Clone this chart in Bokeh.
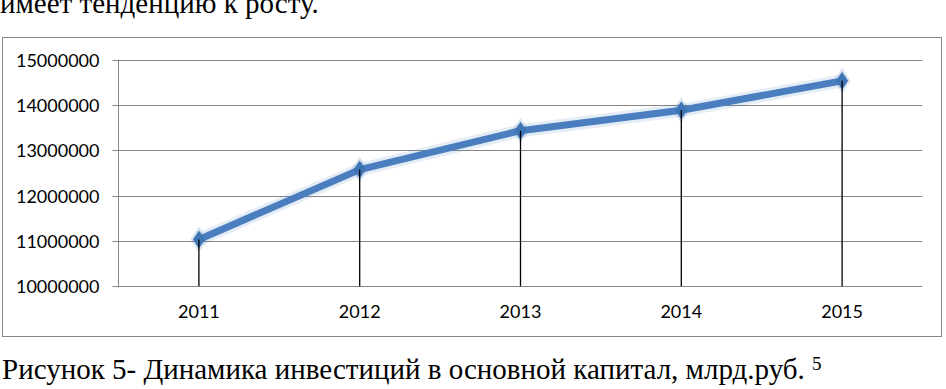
from bokeh.plotting import figure
from bokeh.layouts import column
from bokeh.models import (ColumnDataSource, Range1d, FactorRange, FixedTicker,
                          BasicTickFormatter, Div)
from bokeh.embed import file_html
from bokeh.resources import INLINE

# ---- data ----
years = ["2011", "2012", "2013", "2014", "2015"]
investment = [11035700, 12586100, 13450200, 13902600, 14555900]
y_ticks = [10000000, 11000000, 12000000, 13000000, 14000000, 15000000]
baseline = 10000000
top_text = "имеет тенденцию к росту."
caption = "Рисунок 5- Динамика инвестиций в основной капитал, млрд.руб."
footnote = "5"

W = 946
src = ColumnDataSource(dict(year=years, val=investment,
                            base=[baseline] * len(years)))

serif = {"font-family": "'Liberation Serif', serif", "font-size": "29px",
         "line-height": "29px", "color": "#000000", "white-space": "nowrap",
         "overflow": "hidden"}
inner = "font-family:'Liberation Serif', serif; font-size:29px; line-height:29px;"

top_div = Div(text=f'<div style="{inner} position:relative; top:-11px">{top_text}</div>',
              width=W, height=37, styles=serif, margin=0)

p = figure(width=940, height=300, output_backend="svg", toolbar_location=None,
           title=None, x_range=FactorRange(*years, range_padding=0),
           y_range=Range1d(9970000, 15030000),
           min_border_left=115, min_border_right=21,
           min_border_top=21, min_border_bottom=51,
           background_fill_color="white", border_fill_color="white",
           styles={"border": "1px solid #868686"}, margin=(0, 0, 0, 2))
p.outline_line_color = None

# axes
p.yaxis.ticker = FixedTicker(ticks=y_ticks)
p.yaxis.formatter = BasicTickFormatter(use_scientific=False)
p.yaxis.axis_line_color = "#868686"
p.yaxis.major_tick_line_color = "#868686"
p.yaxis.major_tick_out = 6
p.yaxis.major_tick_in = 0
p.yaxis.minor_tick_line_color = None
p.yaxis.major_label_text_font = "Lato"
p.yaxis.major_label_text_font_size = "18px"
p.yaxis.major_label_text_color = "#000000"
p.yaxis.major_label_standoff = 13

p.xaxis.axis_line_color = None
p.xaxis.major_tick_line_color = None
p.xaxis.minor_tick_line_color = None
p.xaxis.major_label_text_font = "Lato"
p.xaxis.major_label_text_font_size = "18px"
p.xaxis.major_label_text_color = "#000000"
p.xaxis.major_label_standoff = 11

p.xgrid.grid_line_color = None
p.ygrid.ticker = FixedTicker(ticks=y_ticks)
p.ygrid.grid_line_color = "#868686"
p.ygrid.grid_line_width = 1

# series with soft glow
p.line("year", "val", source=src, line_color="#4A7EBB", line_width=13,
       line_alpha=0.15, line_join="round")
p.line("year", "val", source=src, line_color="#4A7EBF", line_width=7,
       line_join="round")
p.scatter("year", "val", source=src, marker="diamond", size=26,
          fill_color="#4A7EBB", fill_alpha=0.2, line_color=None)
p.scatter("year", "val", source=src, marker="diamond", size=18,
          fill_color="#3F74B6", line_color=None)
# drop lines
p.segment(x0="year", y0="base", x1="year", y1="val", source=src,
          line_color="#000000", line_width=1.3)

cap_div = Div(text=(f'<div style="{inner} padding-top:18px; padding-left:2px">{caption} '
                    f'<span style="font-size:19px; position:relative; top:-9px">'
                    f'{footnote}</span></div>'),
              width=W, height=50, styles=serif, margin=0)

layout = column(top_div, p, cap_div, spacing=0)

open("out.html", "w").write(file_html(layout, INLINE))
